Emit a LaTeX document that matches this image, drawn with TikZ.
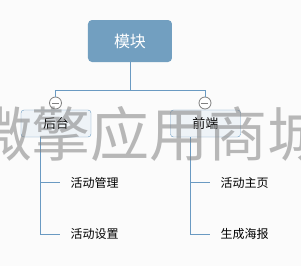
\documentclass[tikz,border=0pt]{standalone}
\usepackage{fontspec}
\usetikzlibrary{calc}
\newfontfamily\cjk{Noto Sans CJK SC}
\definecolor{rootfill}{HTML}{729FC0}
\definecolor{linec}{HTML}{6A9AC2}
\definecolor{childfill}{HTML}{EEF3F7}
\definecolor{bg}{HTML}{FBFBFB}
\begin{document}
\begin{tikzpicture}[x=1pt,y=-1pt,
  rootbox/.style={draw=none,fill=rootfill,rounded corners=4pt,minimum width=84pt,minimum height=42pt,inner sep=0pt,text=white,font=\cjk\fontsize{16}{18}\selectfont},
  childbox/.style={draw=linec,fill=childfill,rounded corners=3pt,minimum width=70pt,minimum height=27pt,inner sep=0pt,font=\cjk\fontsize{13}{15}\selectfont},
  leaf/.style={anchor=west,inner sep=0pt,font=\cjk\fontsize{12}{14}\selectfont},
  conn/.style={draw=linec,line width=0.8pt},
  toggle/.style={circle,draw=gray,fill=white,line width=0.8pt,minimum size=12pt,inner sep=0pt},
  wm/.style={text=gray,opacity=0.55,font=\cjk\fontsize{59}{60}\selectfont,inner sep=0pt}]
\fill[bg] (0,0) rectangle (301,266);
\useasboundingbox (0,0) rectangle (301,266);
\node[rootbox] (root) at (130,41) {模块};
\coordinate (j) at (130,90);
\node[toggle] (t1) at (55.5,103) {};
\node[toggle] (t2) at (205,103) {};
\node[childbox] (c1) at (56,123.5) {后台};
\node[childbox] (c2) at (205.5,123.5) {前端};
\draw[conn] (root.south) -- (j) -| (t1.north);
\draw[conn] (j) -| (t2.north);
\draw[gray,line width=0.8pt] ($(t1.center)+(-3.5,0)$) -- ($(t1.center)+(3.5,0)$);
\draw[gray,line width=0.8pt] ($(t2.center)+(-3.5,0)$) -- ($(t2.center)+(3.5,0)$);
\node[leaf] (l1) at (70.5,182.5) {活动管理};
\node[leaf] (l2) at (70.5,234) {活动设置};
\node[leaf] (r1) at (220.5,182.5) {活动主页};
\node[leaf] (r2) at (220.5,234) {生成海报};
\coordinate (a1) at (40.5,182.5);
\coordinate (a2) at (40.5,234);
\coordinate (b1) at (190.5,182.5);
\coordinate (b2) at (190.5,234);
\draw[conn] (c1.south -| a1) -- (a2) -- ($(a2)+(20,0)$);
\draw[conn] (a1) -- ($(a1)+(20,0)$);
\draw[conn] (c2.south -| b1) -- (b2) -- ($(b2)+(20,0)$);
\draw[conn] (b1) -- ($(b1)+(20,0)$);
\node[wm] (w) at (150,134) {微擎应用商城};
\end{tikzpicture}
\end{document}
